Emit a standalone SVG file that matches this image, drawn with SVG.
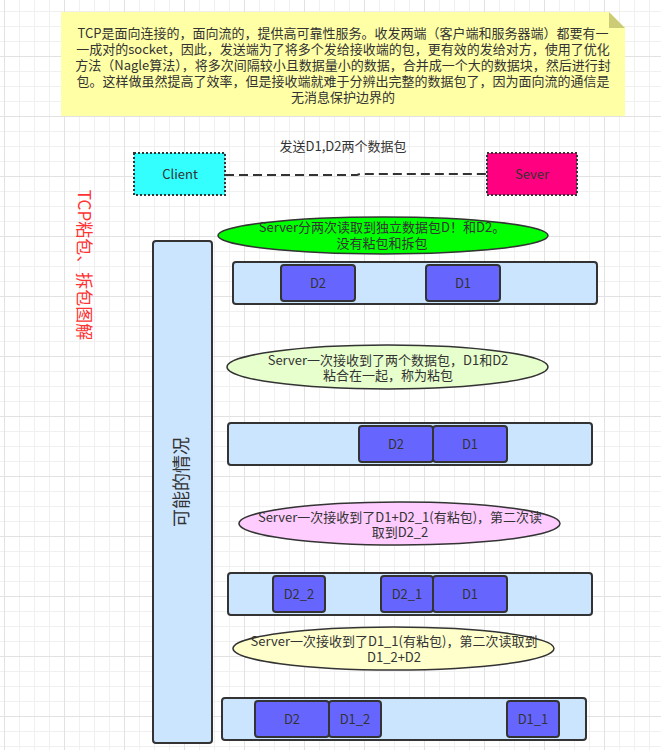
<svg xmlns="http://www.w3.org/2000/svg" width="661" height="750" viewBox="0 0 661 750">
<defs>
<pattern id="grid" x="4" y="56" width="60" height="60" patternUnits="userSpaceOnUse">
<rect x="0" y="0" width="60" height="60" fill="#ffffff"/>
<rect x="15" y="0" width="1" height="60" fill="#f0f0f0"/>
<rect x="30" y="0" width="1" height="60" fill="#f0f0f0"/>
<rect x="45" y="0" width="1" height="60" fill="#f0f0f0"/>
<rect x="0" y="15" width="60" height="1" fill="#f0f0f0"/>
<rect x="0" y="30" width="60" height="1" fill="#f0f0f0"/>
<rect x="0" y="45" width="60" height="1" fill="#f0f0f0"/>
<rect x="0" y="0" width="1" height="60" fill="#e2e2e2"/>
<rect x="0" y="0" width="60" height="1" fill="#e2e2e2"/>
</pattern>
<style>
text{font-family:"Noto Sans CJK SC","Noto Sans",sans-serif;font-size:13px;fill:#333333;text-anchor:middle}
.bar{fill:#cce5ff;stroke:#333333;stroke-width:2}
.pkt{fill:#6666ff;stroke:#333333;stroke-width:2}
.ell{stroke:#333333;stroke-width:1.5}
</style>
</defs>
<rect x="0" y="0" width="661" height="750" fill="url(#grid)"/>

<g id="note">
<path d="M61,12 H609 L625,28 V116 H61 Z" fill="#ffffa6"/>
<path d="M609,12 L625,28 H609 Z" fill="#cccc77"/>
<text x="343" y="38">TCP是面向连接的，面向流的，提供高可靠性服务。收发两端（客户端和服务器端）都要有一</text>
<text x="343" y="54">一成对的socket，因此，发送端为了将多个发给接收端的包，更有效的发给对方，使用了优化</text>
<text x="343" y="70">方法（Nagle算法），将多次间隔较小且数据量小的数据，合并成一个大的数据块，然后进行封</text>
<text x="343" y="86">包。这样做虽然提高了效率，但是接收端就难于分辨出完整的数据包了，因为面向流的通信是</text>
<text x="343" y="102">无消息保护边界的</text>
</g>

<g id="connectors">
<path d="M225,175 H357 L360,174 H487" fill="none" stroke="#333333" stroke-width="2" stroke-dasharray="9 5"/>
<text x="343" y="151">发送D1,D2两个数据包</text>
</g>

<g id="client">
<rect x="134" y="153" width="91" height="42" fill="#33ffff" stroke="#333333" stroke-width="2" stroke-dasharray="2 2"/>
<text x="180" y="179">Client</text>
</g>
<g id="server">
<rect x="487" y="153" width="90" height="42" fill="#ff0080" stroke="#333333" stroke-width="2" stroke-dasharray="2 2"/>
<text x="532" y="179">Sever</text>
</g>

<g id="title">
<text transform="translate(84,265) rotate(90)" y="6" style="font-size:17px;fill:#ff3333">TCP粘包、拆包图解</text>
</g>

<g id="cases">
<rect x="153" y="241" width="59" height="502" rx="3" class="bar"/>
<text transform="translate(182,482) rotate(-90)" y="6" style="font-size:18px">可能的情况</text>
</g>

<g id="ellipse1">
<ellipse cx="383" cy="235.5" rx="165" ry="18.5" fill="#00ff00" class="ell"/>
<text x="382" y="231.5">Server分两次读取到独立数据包D！和D2。</text>
<text x="382" y="248">没有粘包和拆包</text>
</g>
<g id="row1">
<rect x="233" y="262" width="364" height="42" rx="3" class="bar"/>
<rect x="281" y="265" width="74" height="36" rx="3" class="pkt"/>
<text x="318" y="287.5">D2</text>
<rect x="426" y="265" width="74" height="36" rx="3" class="pkt"/>
<text x="463" y="287.5">D1</text>
</g>

<g id="ellipse2">
<ellipse cx="387.5" cy="367" rx="160.5" ry="22" fill="#e6ffcc" class="ell"/>
<text x="388" y="364.5">Server一次接收到了两个数据包，D1和D2</text>
<text x="388" y="380">粘合在一起，称为粘包</text>
</g>
<g id="row2">
<rect x="228" y="423" width="364" height="42" rx="3" class="bar"/>
<rect x="359" y="426" width="74" height="36" rx="3" class="pkt"/>
<text x="396" y="448.5">D2</text>
<rect x="433" y="426" width="74" height="36" rx="3" class="pkt"/>
<text x="470" y="448.5">D1</text>
</g>

<g id="ellipse3">
<ellipse cx="399.5" cy="523.5" rx="160.5" ry="21.5" fill="#ffccff" class="ell"/>
<text x="400" y="521.5">Server一次接收到了D1+D2_1(有粘包)，第二次读</text>
<text x="400" y="537">取到D2_2</text>
</g>
<g id="row3">
<rect x="228" y="573" width="364" height="42" rx="3" class="bar"/>
<rect x="273" y="576" width="52" height="36" rx="3" class="pkt"/>
<text x="299" y="598.5">D2_2</text>
<rect x="381" y="576" width="52" height="36" rx="3" class="pkt"/>
<text x="407" y="598.5">D2_1</text>
<rect x="433" y="576" width="74" height="36" rx="3" class="pkt"/>
<text x="470" y="598.5">D1</text>
</g>

<g id="ellipse4">
<ellipse cx="393.5" cy="648.5" rx="160.5" ry="21.5" fill="#ffffcc" class="ell"/>
<text x="394" y="645.5">Server一次接收到了D1_1(有粘包)，第二次读取到</text>
<text x="394" y="661.5">D1_2+D2</text>
</g>
<g id="row4">
<rect x="222" y="698" width="364" height="42" rx="3" class="bar"/>
<rect x="255" y="701" width="74" height="36" rx="3" class="pkt"/>
<text x="292" y="723.5">D2</text>
<rect x="329" y="701" width="52" height="36" rx="3" class="pkt"/>
<text x="355" y="723.5">D1_2</text>
<rect x="507" y="701" width="52" height="36" rx="3" class="pkt"/>
<text x="533" y="723.5">D1_1</text>
</g>
</svg>
